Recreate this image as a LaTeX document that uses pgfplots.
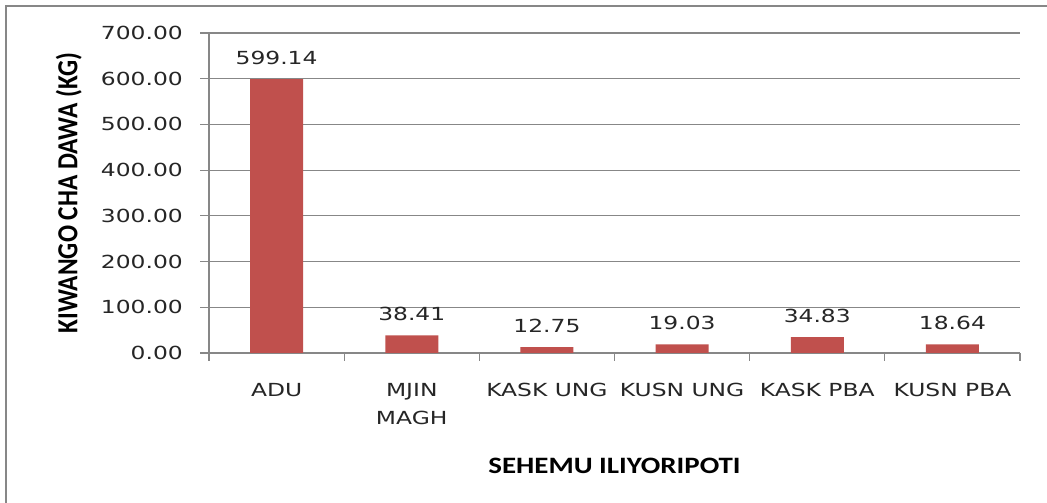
\documentclass[border=0pt]{standalone}
\usepackage{pgfplots}
\pgfplotsset{compat=1.18}
\usepackage{fontspec}
\newfontfamily\numfont[FakeStretch=1.3]{DejaVu Sans}
\newfontfamily\titlefont[FakeStretch=1.23]{Carlito}
\newfontfamily\titleplain{Carlito}
\definecolor{barred}{HTML}{C0504D}
\definecolor{gridgray}{HTML}{878787}
\begin{document}
\begin{tikzpicture}[x=1bp,y=1bp]
\useasboundingbox (0,0) rectangle (1047,503);
\fill[white] (0,0) rectangle (1047,503);
\draw[gridgray, line width=2bp] (6,-10) -- (6,497) -- (1060,497);
\begin{axis}[
  at={(209bp,150bp)}, anchor=south west,
  scale only axis, width=811bp, height=320bp,
  xmin=-0.5, xmax=5.5, ymin=0, ymax=700,
  ybar, bar width=53bp,
  axis x line*=bottom, axis y line*=left,
  axis line style={gridgray, line width=1.2bp, -},
  ymajorgrids, grid style={gridgray, line width=1.2bp},
  tick align=outside, tick pos=left,
  major tick length=9bp, minor tick length=8bp,
  tick style={gridgray, line width=1.2bp},
  major x tick style={draw=none},
  xtick={0,1,2,3,4,5},
  minor xtick={-0.5,0.5,1.5,2.5,3.5,4.5,5.5},
  xticklabels={ADU, MJIN\\MAGH, KASK UNG, KUSN UNG, KASK PBA, KUSN PBA},
  xticklabel style={font=\numfont\fontsize{18bp}{28bp}\selectfont, align=center, anchor=north, inner sep=0pt, yshift=-21bp, text=black!85},
  ytick={0,100,200,300,400,500,600,700},
  yticklabels={0.00,100.00,200.00,300.00,400.00,500.00,600.00,700.00},
  yticklabel style={font=\numfont\fontsize{18bp}{20bp}\selectfont, anchor=east, inner sep=0pt, xshift=-17bp, text=black!85},
  xlabel={SEHEMU ILIYORIPOTI},
  xlabel style={font=\titlefont\bfseries\fontsize{23.5bp}{26bp}\selectfont, at={(axis description cs:0.5,-0.353)}, anchor=center},
  ylabel={\scalebox{1}[1.15]{KIWANGO CHA DAWA (KG)}},
  ylabel style={font=\titleplain\bfseries\fontsize{25.3bp}{27bp}\selectfont, at={(axis description cs:-0.173,0.5)}, anchor=center},
  point meta=explicit symbolic,
  nodes near coords,
  nodes near coords style={font=\numfont\fontsize{18bp}{20bp}\selectfont, anchor=base, inner sep=0pt, yshift=15bp, text=black!85},
]
\addplot[fill=barred, draw=none] coordinates {
  (0,599.14) [599.14]
  (1,38.41) [38.41]
  (2,12.75) [12.75]
  (3,19.03) [19.03]
  (4,34.83) [34.83]
  (5,18.64) [18.64]
};
\end{axis}
\end{tikzpicture}
\end{document}
